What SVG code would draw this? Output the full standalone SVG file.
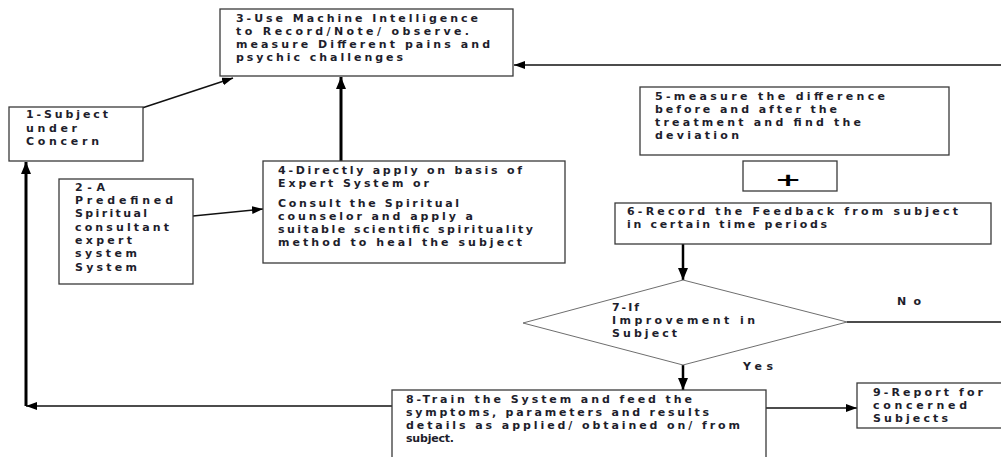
<svg xmlns="http://www.w3.org/2000/svg" width="1001" height="457" viewBox="0 0 1001 457">
<style>
.box{fill:#fff;stroke:#3a3a3a;stroke-width:1.3}
.dia{fill:#fff;stroke:#6e6e6e;stroke-width:1}
text{font-family:"DejaVu Sans","Open Sans",sans-serif;font-size:11px;font-weight:700;fill:#1e1e2c}
.ln{fill:none;stroke:#111;stroke-width:1.5}
.thick{fill:none;stroke:#000;stroke-width:3}
.mid{fill:none;stroke:#000;stroke-width:2.5}
</style>
<defs>
<marker id="ah" markerUnits="userSpaceOnUse" markerWidth="12" markerHeight="10" refX="11" refY="4" orient="auto">
<path d="M0,0 L11,4 L0,8 Z" fill="#000"/>
</marker>
<marker id="ahb" markerUnits="userSpaceOnUse" markerWidth="14" markerHeight="12" refX="12" refY="5" orient="auto">
<path d="M0,0 L12,5 L0,10 Z" fill="#000"/>
</marker>
</defs>
<rect width="1001" height="457" fill="#fff"/>

<g id="connectors">
<line class="ln" x1="1001" y1="65" x2="514" y2="65" marker-end="url(#ah)"/>
<line class="ln" x1="142" y1="108" x2="233" y2="78" marker-end="url(#ah)"/>
<line class="thick" x1="341" y1="161" x2="341" y2="77" marker-end="url(#ahb)"/>
<line class="ln" x1="193" y1="216" x2="263" y2="209" marker-end="url(#ah)"/>
<line class="mid" x1="683" y1="244" x2="683" y2="280" marker-end="url(#ahb)"/>
<line class="mid" x1="683" y1="365" x2="683" y2="390" marker-end="url(#ahb)"/>
<line class="ln" x1="847" y1="322" x2="1001" y2="322"/>
<line class="ln" x1="392" y1="406" x2="26" y2="406" marker-end="url(#ah)"/>
<line class="thick" x1="26" y1="406" x2="26" y2="162" marker-end="url(#ahb)"/>
<line class="ln" x1="766" y1="408" x2="857" y2="408" marker-end="url(#ah)"/>
</g>

<g id="n1">
<rect class="box" x="9" y="107" width="134" height="54"/>
<text x="26" y="118" textLength="82" lengthAdjust="spacing">1-Subject</text>
<text x="26" y="132" textLength="51" lengthAdjust="spacing">under</text>
<text x="26" y="145" textLength="73" lengthAdjust="spacing">Concern</text>
</g>

<g id="n2">
<rect class="box" x="59" y="179" width="134" height="105"/>
<text x="75" y="191" textLength="30" lengthAdjust="spacing">2-A</text>
<text x="75" y="204" textLength="98" lengthAdjust="spacing">Predefined</text>
<text x="75" y="217" textLength="72" lengthAdjust="spacing">Spiritual</text>
<text x="75" y="231" textLength="94" lengthAdjust="spacing">consultant</text>
<text x="75" y="244" textLength="57" lengthAdjust="spacing">expert</text>
<text x="75" y="257" textLength="62" lengthAdjust="spacing">system</text>
<text x="75" y="271" textLength="62" lengthAdjust="spacing">System</text>
</g>

<g id="n3">
<rect class="box" x="220" y="9" width="293" height="67"/>
<text x="236" y="22" textLength="242" lengthAdjust="spacing">3-Use Machine Intelligence</text>
<text x="236" y="34.5" textLength="233" lengthAdjust="spacing">to Record/Note/ observe.</text>
<text x="236" y="47.5" textLength="254" lengthAdjust="spacing">measure Different pains and</text>
<text x="236" y="60.5" textLength="167" lengthAdjust="spacing">psychic challenges</text>
</g>

<g id="n4">
<rect class="box" x="263" y="161" width="302" height="102"/>
<text x="278" y="174" textLength="244" lengthAdjust="spacing">4-Directly apply on basis of</text>
<text x="278" y="186.5" textLength="151" lengthAdjust="spacing">Expert System or</text>
<text x="278" y="207" textLength="181" lengthAdjust="spacing">Consult the Spiritual</text>
<text x="278" y="220" textLength="195" lengthAdjust="spacing">counselor and apply a</text>
<text x="278" y="233" textLength="255" lengthAdjust="spacing">suitable scientific spirituality</text>
<text x="278" y="246" textLength="244" lengthAdjust="spacing">method to heal the subject</text>
</g>

<g id="n5">
<rect class="box" x="640" y="87" width="309" height="68"/>
<text x="655" y="99.5" textLength="230" lengthAdjust="spacing">5-measure the difference</text>
<text x="655" y="113" textLength="182" lengthAdjust="spacing">before and after the</text>
<text x="655" y="126" textLength="206" lengthAdjust="spacing">treatment and find the</text>
<text x="655" y="138.5" textLength="84" lengthAdjust="spacing">deviation</text>
</g>

<g id="plus">
<rect class="box" x="743" y="161" width="94" height="30"/>
<text transform="translate(788,185.5) scale(1.8,1)" text-anchor="middle" style="font-size:18px;font-weight:700;fill:#000">+</text>
</g>

<g id="n6">
<rect class="box" x="615" y="203" width="376" height="41"/>
<text x="627" y="215" textLength="331" lengthAdjust="spacing">6-Record the Feedback from subject</text>
<text x="627" y="228" textLength="200" lengthAdjust="spacing">in certain time periods</text>
</g>

<g id="n7">
<polygon class="dia" points="683,280 847,322 683,365 523,323"/>
<text x="612" y="310.5" textLength="27" lengthAdjust="spacing">7-If</text>
<text x="612" y="324" textLength="143" lengthAdjust="spacing">Improvement in</text>
<text x="612" y="337" textLength="65" lengthAdjust="spacing">Subject</text>
</g>

<g id="labels">
<text x="897" y="305" textLength="24" lengthAdjust="spacing">No</text>
<text x="743" y="370" textLength="30" lengthAdjust="spacing">Yes</text>
</g>

<g id="n8">
<rect class="box" x="392" y="390" width="374" height="80"/>
<text x="406" y="403" textLength="286" lengthAdjust="spacing">8-Train the System and feed the</text>
<text x="406" y="416" textLength="303" lengthAdjust="spacing">symptoms, parameters and results</text>
<text x="406" y="429" textLength="334" lengthAdjust="spacing">details as applied/ obtained on/ from</text>
<text x="406" y="442" textLength="48" lengthAdjust="spacing">subject.</text>
</g>

<g id="n9">
<rect class="box" x="857" y="383" width="160" height="45"/>
<text x="873" y="396" textLength="110" lengthAdjust="spacing">9-Report for</text>
<text x="873" y="409" textLength="94" lengthAdjust="spacing">concerned</text>
<text x="873" y="422" textLength="75" lengthAdjust="spacing">Subjects</text>
</g>
</svg>
